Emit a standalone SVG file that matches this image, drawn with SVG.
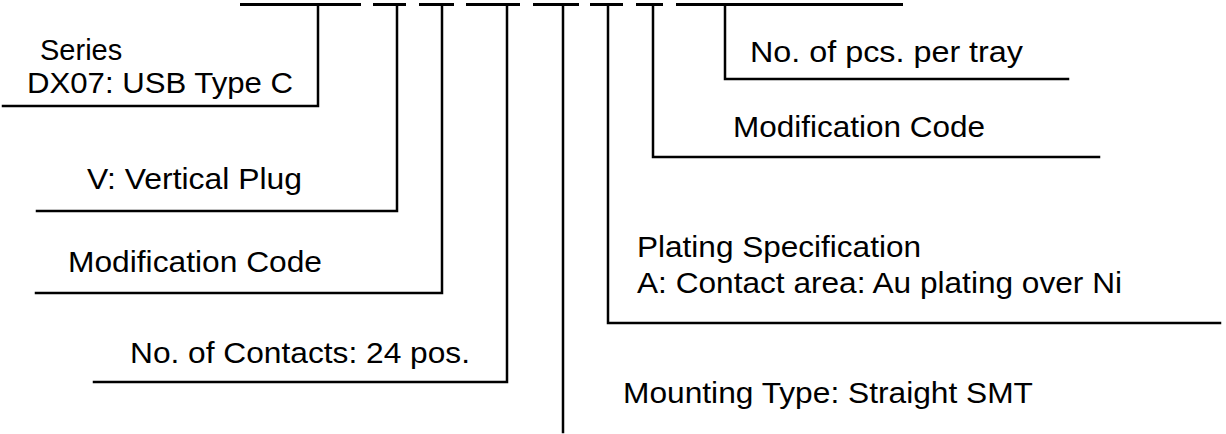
<svg xmlns="http://www.w3.org/2000/svg" width="1226" height="434" viewBox="0 0 1226 434">
<style>
.t{font-family:"Liberation Sans",Arial,sans-serif;font-size:29px;fill:#000}
.l{stroke:#000;stroke-width:2.5;fill:none;stroke-linecap:square;stroke-linejoin:miter}
.bar{stroke:#000;stroke-width:3;fill:none}
</style>
<rect width="1226" height="434" fill="#fff"/>
<g id="code">
<path class="bar" d="M240 4.5H361M373 4.5H406M419 4.5H454M466 4.5H520M533 4.5H579M590 4.5H623M636 4.5H663M676 4.5H903"/>
</g>
<g id="connectors">
<path class="l" d="M318 5V106H3"/>
<path class="l" d="M397 5V211H37"/>
<path class="l" d="M442 5V293H36"/>
<path class="l" d="M507 5V382H94"/>
<path class="l" d="M563 5V432"/>
<path class="l" d="M608 5V323H1220"/>
<path class="l" d="M653 5V157H1099"/>
<path class="l" d="M725 5V79H1068"/>
</g>
<g id="series"><text class="t" x="40" y="60">Series</text><text class="t" x="27" y="93" textLength="266" lengthAdjust="spacingAndGlyphs">DX07: USB Type C</text></g>
<g id="plug"><text class="t" x="87" y="189" textLength="215" lengthAdjust="spacingAndGlyphs">V: Vertical Plug</text></g>
<g id="mod1"><text class="t" x="68" y="272" textLength="254" lengthAdjust="spacingAndGlyphs">Modification Code</text></g>
<g id="contacts"><text class="t" x="130" y="363" textLength="340" lengthAdjust="spacingAndGlyphs">No. of Contacts: 24 pos.</text></g>
<g id="mounting"><text class="t" x="623" y="403" textLength="410" lengthAdjust="spacingAndGlyphs">Mounting Type: Straight SMT</text></g>
<g id="plating"><text class="t" x="637" y="257" textLength="284" lengthAdjust="spacingAndGlyphs">Plating Specification</text><text class="t" x="637" y="293" textLength="485" lengthAdjust="spacingAndGlyphs">A: Contact area: Au plating over Ni</text></g>
<g id="mod2"><text class="t" x="733" y="137" textLength="252" lengthAdjust="spacingAndGlyphs">Modification Code</text></g>
<g id="tray"><text class="t" x="750" y="62" textLength="273" lengthAdjust="spacingAndGlyphs">No. of pcs. per tray</text></g>
</svg>
